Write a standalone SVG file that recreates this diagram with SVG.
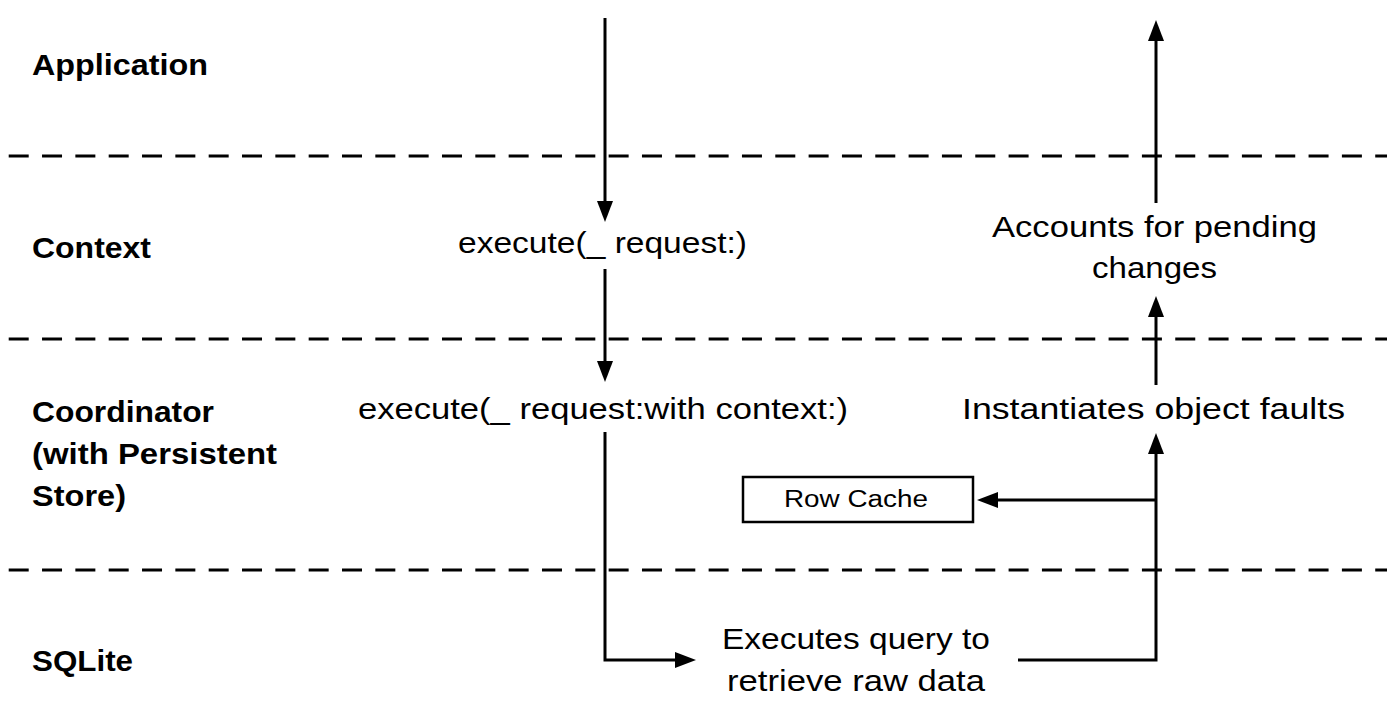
<svg xmlns="http://www.w3.org/2000/svg" width="1392" height="704" viewBox="0 0 1392 704">
<style>
.lbl{font-family:"Liberation Sans",Arial,sans-serif;font-weight:bold;font-size:30px;fill:#000}
.txt{font-family:"Liberation Sans",Arial,sans-serif;font-size:29px;fill:#000}
.sm{font-family:"Liberation Sans",Arial,sans-serif;font-size:23px;fill:#000}
.dash{stroke:#000;stroke-width:3;stroke-dasharray:20 13.33;fill:none}
.conn{stroke:#000;stroke-width:3;fill:none;marker-end:url(#ah)}
.box{fill:#fff;stroke:#000;stroke-width:2.5}
</style>
<defs>
<marker id="ah" markerUnits="userSpaceOnUse" viewBox="0 0 21 16" refX="2" refY="8" markerWidth="21" markerHeight="16" orient="auto">
<path d="M0 0 L21 8 L0 16 Z" fill="#000"/>
</marker>
</defs>
<rect width="1392" height="704" fill="#fff"/>
<g id="lanes">
<line class="dash" x1="8.7" y1="156" x2="1387" y2="156"/>
<line class="dash" x1="8.7" y1="339" x2="1387" y2="339"/>
<line class="dash" x1="8.7" y1="570" x2="1387" y2="570"/>
</g>
<g id="lane-labels">
<text class="lbl" x="32" y="75" textLength="176" lengthAdjust="spacingAndGlyphs">Application</text>
<text class="lbl" x="32" y="258" textLength="119" lengthAdjust="spacingAndGlyphs">Context</text>
<text class="lbl" x="32" y="422" textLength="182" lengthAdjust="spacingAndGlyphs">Coordinator</text>
<text class="lbl" x="32" y="464" textLength="245" lengthAdjust="spacingAndGlyphs">(with Persistent</text>
<text class="lbl" x="32" y="506" textLength="94" lengthAdjust="spacingAndGlyphs">Store)</text>
<text class="lbl" x="32" y="671" textLength="101" lengthAdjust="spacingAndGlyphs">SQLite</text>
</g>
<g id="connectors">
<path class="conn" d="M605 18 V203"/>
<path class="conn" d="M605 269 V363"/>
<path class="conn" d="M605 432 V660 H677"/>
<path class="conn" d="M1018 660 H1156 V452"/>
<path class="conn" d="M1156 500 H996"/>
<path class="conn" d="M1156 385 V315"/>
<path class="conn" d="M1156 203 V39"/>
</g>
<g id="node-context-execute">
<text class="txt" x="458" y="253" textLength="289" lengthAdjust="spacingAndGlyphs">execute(_ request:)</text>
</g>
<g id="node-coordinator-execute">
<text class="txt" x="358" y="419" textLength="490" lengthAdjust="spacingAndGlyphs">execute(_ request:with context:)</text>
</g>
<g id="node-sqlite-query">
<text class="txt" x="722" y="649" textLength="268" lengthAdjust="spacingAndGlyphs">Executes query to</text>
<text class="txt" x="727" y="691" textLength="258" lengthAdjust="spacingAndGlyphs">retrieve raw data</text>
</g>
<g id="node-row-cache">
<rect class="box" x="743" y="477" width="230" height="45"/>
<text class="sm" x="784" y="507" textLength="144" lengthAdjust="spacingAndGlyphs">Row Cache</text>
</g>
<g id="node-instantiates">
<text class="txt" x="962" y="419" textLength="383" lengthAdjust="spacingAndGlyphs">Instantiates object faults</text>
</g>
<g id="node-accounts">
<text class="txt" x="992" y="237" textLength="325" lengthAdjust="spacingAndGlyphs">Accounts for pending</text>
<text class="txt" x="1092" y="278" textLength="125" lengthAdjust="spacingAndGlyphs">changes</text>
</g>
</svg>
